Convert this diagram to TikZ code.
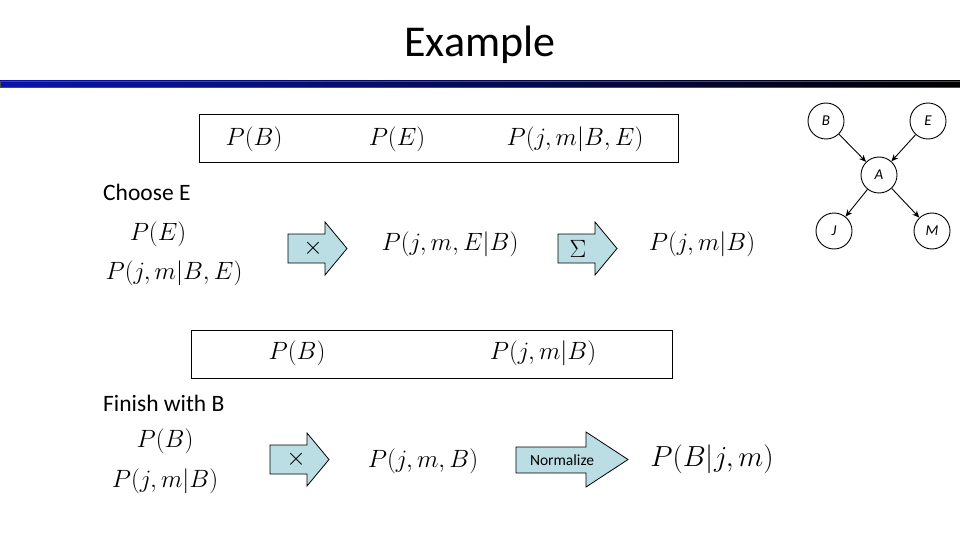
\documentclass[tikz,border=0pt]{standalone}
\usepackage{fix-cm}
\usepackage{fontspec}
\setsansfont{Carlito}
\usetikzlibrary{arrows.meta}
\definecolor{arrowfill}{RGB}{186,222,228}
\definecolor{rulestart}{RGB}{10,20,170}
\tikzset{
	mathtxt/.style={font=\fontsize{25}{30}\selectfont, inner sep=0pt},
	plaintxt/.style={font=\sffamily\fontsize{23.5}{28}\selectfont, inner sep=0pt, anchor=west},
	blockarrow/.style={draw, fill=arrowfill, line width=0.8pt, line join=miter},
	netnode/.style={draw, circle, minimum size=36pt, inner sep=0pt, line width=0.9pt, font=\sffamily\itshape\fontsize{15}{17}\selectfont},
	netedge/.style={line width=0.9pt, -{Stealth[length=7pt,width=6pt]}}
}
\begin{document}
\begin{tikzpicture}[x=1pt, y=-1pt]
	\useasboundingbox (0,0) rectangle (960,540);
	% title and rule
	\node[font=\sffamily\fontsize{44}{50}\selectfont, inner sep=0pt] (title) at (480,45) {Example};
	\shade[left color=rulestart, right color=black] (0,81) rectangle (960,87);
	\draw[line width=0.5pt, black!70] (0,81) rectangle (960,87);
	% factors before eliminating E
	\draw[line width=0.9pt] (199,114) rectangle (678,162);
	\node[mathtxt] (pb0) at (254,139) {$P(B)$};
	\node[mathtxt] (pe0) at (397,139) {$P(E)$};
	\node[mathtxt] (pjmbe0) at (575,139) {$P(j,m|B,E)$};
	% choose E
	\node[plaintxt] (choosee) at (103,192) {Choose E};
	\node[mathtxt] (pe1) at (158,234) {$P(E)$};
	\node[mathtxt] (pjmbe1) at (174,273) {$P(j,m|B,E)$};
	\draw[blockarrow] (288,234) -- (325,234) -- (325,222) -- (347,248.5) -- (325,275) -- (325,263) -- (288,263) -- cycle;
	\node[mathtxt] (times1) at (313,248) {$\times$};
	\node[mathtxt] (pjmeb) at (450,244) {$P(j,m,E|B)$};
	\draw[blockarrow] (558,234) -- (595,234) -- (595,222) -- (617,248.5) -- (595,275) -- (595,263) -- (558,263) -- cycle;
	\node[mathtxt] (sum1) at (578,249) {$\Sigma$};
	\node[mathtxt] (pjmb1) at (702,244) {$P(j,m|B)$};
	% factors before eliminating B
	\draw[line width=0.9pt] (191,330) rectangle (672,378);
	\node[mathtxt] (pb2) at (297,353) {$P(B)$};
	\node[mathtxt] (pjmb2) at (543,353) {$P(j,m|B)$};
	% finish with B
	\node[plaintxt] (finishb) at (103,403) {Finish with B};
	\node[mathtxt] (pb3) at (165,441) {$P(B)$};
	\node[mathtxt] (pjmb3) at (165,481) {$P(j,m|B)$};
	\draw[blockarrow] (270,445) -- (307,445) -- (307,433) -- (329,459.5) -- (307,486) -- (307,474) -- (270,474) -- cycle;
	\node[mathtxt] (times2) at (296,459) {$\times$};
	\node[mathtxt] (pjmb4) at (423,461) {$P(j,m,B)$};
	\draw[blockarrow] (516,447) -- (586,447) -- (586,432) -- (628,459.5) -- (586,487) -- (586,473) -- (516,473) -- cycle;
	\node[font=\sffamily\fontsize{15.5}{18}\selectfont, inner sep=0pt] (norm) at (562,460) {Normalize};
	\node[mathtxt, font=\fontsize{29}{34}\selectfont] (pbjm) at (712,459) {$P(B|j,m)$};
	% bayes net
	\node[netnode] (B) at (826,121) {B};
	\node[netnode] (E) at (928,121) {E};
	\node[netnode] (A) at (879,175) {A};
	\node[netnode] (J) at (834,231) {J};
	\node[netnode] (M) at (932,231) {M};
	\draw[netedge] (B) -- (A);
	\draw[netedge] (E) -- (A);
	\draw[netedge] (A) -- (J);
	\draw[netedge] (A) -- (M);
\end{tikzpicture}
\end{document}
